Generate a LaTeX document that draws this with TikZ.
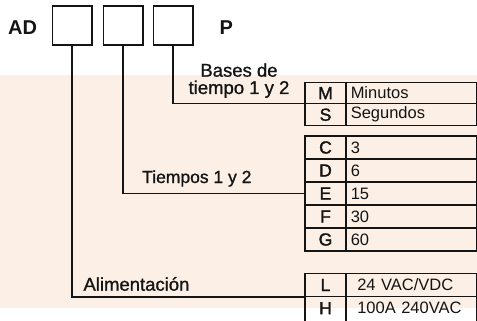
\documentclass[tikz,border=0pt]{standalone}
\usepackage{fontspec}
\setmainfont{Liberation Sans}
\newfontfamily\medfont[FakeBold=1.0]{Liberation Sans}
\newfontfamily\semifont[FakeBold=1.6]{Liberation Sans}
\definecolor{beige}{HTML}{FCF0E6}
\definecolor{ink}{HTML}{141414}
\tikzset{
  codebox/.style={draw=ink, line width=1.6pt, minimum width=39.5pt, minimum height=39.4pt, inner sep=0pt, outer sep=0pt, anchor=north west},
  conn/.style={draw=ink, line width=1.6pt},
  cell/.style={draw=ink, line width=1.1pt, inner sep=0pt, outer sep=0pt, anchor=north west},
  lcell/.style={cell, minimum width=41pt, font=\fontsize{17.5}{19}\semifont, text=ink},
  vcell/.style={cell, minimum width=130.5pt, text width=121pt, align=left, font=\fontsize{16.5}{18}\selectfont, text=ink},
  lbl/.style={font=\fontsize{18.5}{20}\medfont, text=ink, inner sep=0pt, align=center},
  big/.style={font=\fontsize{20}{22}\selectfont\bfseries, text=ink, inner sep=0pt}
}
\begin{document}
\begin{tikzpicture}[x=1pt,y=-1pt]
\useasboundingbox (0,0) rectangle (477,321);
\fill[beige] (0,75) rectangle (477,307.5);
% code boxes
\node[codebox] (b1) at (52.5,5.8) {};
\node[codebox] (b2) at (103.5,5.8) {};
\node[codebox] (b3) at (153.5,5.8) {};
\node[big, anchor=base west] (ad) at (8,34.3) {AD};
\node[big, anchor=base west] (p) at (219.5,34.3) {P};
% table 1
\node[lcell, minimum height=20.8pt] (M) at (305,82.7) {M};
\node[vcell, minimum height=20.8pt] (Mv) at (346,82.7) {Minutos};
\node[lcell, minimum height=22.4pt] (S) at (305,103.5) {S};
\node[vcell, minimum height=22.4pt] (Sv) at (346,103.5) {Segundos};
% table 2
\node[lcell, minimum height=23pt] (C) at (305,136) {C};
\node[vcell, minimum height=23pt] (Cv) at (346,136) {3};
\node[lcell, minimum height=23pt] (D) at (305,159) {D};
\node[vcell, minimum height=23pt] (Dv) at (346,159) {6};
\node[lcell, minimum height=23pt] (E) at (305,182) {E};
\node[vcell, minimum height=23pt] (Ev) at (346,182) {15};
\node[lcell, minimum height=23pt] (F) at (305,205) {F};
\node[vcell, minimum height=23pt] (Fv) at (346,205) {30};
\node[lcell, minimum height=23pt] (G) at (305,228) {G};
\node[vcell, minimum height=23pt] (Gv) at (346,228) {60};
% table 3
\node[lcell, minimum height=23.4pt] (L) at (305,273.3) {L};
\node[vcell, minimum height=23.4pt, text width=108pt] (Lv) at (346,273.3) {24 VAC/VDC};
\node[lcell, minimum height=40pt, text depth=17pt] (H) at (305,296.7) {H};
\node[vcell, minimum height=40pt, text width=108pt, text depth=17pt] (Hv) at (346,296.7) {100A 240VAC};
% connectors
\draw[conn] (b3.south) |- (M.south west);
\draw[conn] (b2.south) |- (E.west);
\draw[conn] (b1.south) |- (L.south west);
% labels
\node[lbl, anchor=base] (bases) at (239,76.7) {Bases de};
\node[lbl, anchor=base] (tiempo) at (239,94) {tiempo 1 y 2};
\node[lbl, anchor=base west, font=\fontsize{17.5}{20}\medfont] (tiempos) at (142,183) {Tiempos 1 y 2};
\node[lbl, anchor=base west] (alim) at (83.3,290.7) {Alimentación};
\end{tikzpicture}
\end{document}
